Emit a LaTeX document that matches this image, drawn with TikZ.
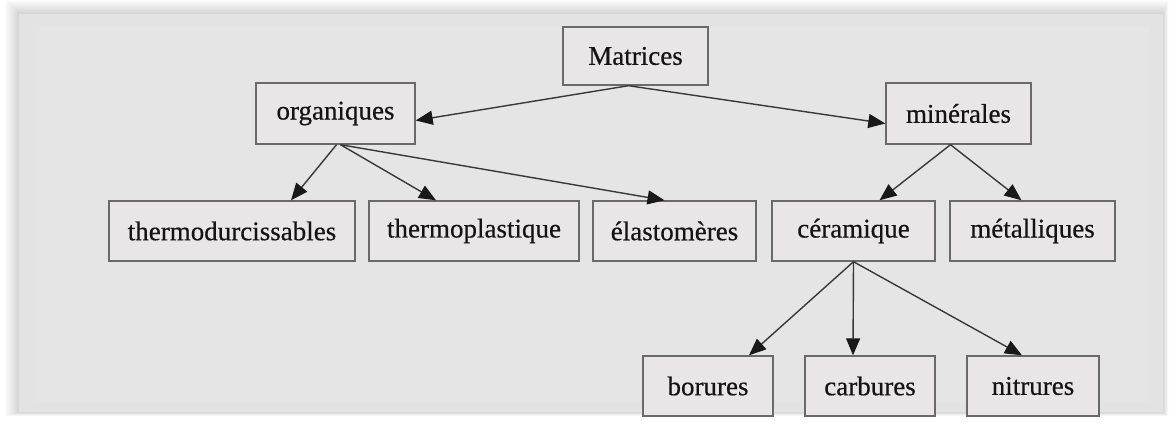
\documentclass[tikz,border=0pt]{standalone}
\usepackage{fontspec}
\setmainfont{Liberation Serif}
\newfontfamily\boxfont[FakeBold=0.5]{Liberation Serif}
\usetikzlibrary{arrows.meta,calc}
\definecolor{panel}{HTML}{E3E3E3}
\definecolor{panelin}{HTML}{E5E5E5}
\definecolor{boxfill}{HTML}{E8E6E6}
\definecolor{boxline}{HTML}{6A6A6A}
\definecolor{linec}{HTML}{383838}
\begin{document}
\begin{tikzpicture}[x=1pt,y=-1pt,
  box/.style={draw=boxline,line width=1.4pt,fill=boxfill,rectangle,inner sep=0pt,
    font=\boxfont\fontsize{27}{32}\selectfont,text=black!92},
  link/.style={draw=linec,line width=1.4pt,-{Triangle[length=17pt,width=14pt,color=black!90]}}]
\useasboundingbox (0,0) rectangle (1176,426);
\fill[white] (0,0) rectangle (1176,426);
% soft shadow of the panel
\foreach \d in {1,2,...,14}{
  \fill[black,opacity=0.012] (19-\d,14-\d) rectangle (1163+\d*0.4,412+\d*0.3);
}
\fill[panel] (19,14) rectangle (1163,412);
\fill[panelin] (33,27) rectangle (1150,401);
% nodes
\node[box,minimum width=145pt,minimum height=58pt] (mat) at (635.5,56) {Matrices};
\node[box,minimum width=159pt,minimum height=61pt] (org) at (335.5,113.5) {organiques};
\node[box,minimum width=145pt,minimum height=61pt] (min) at (958.5,113.5) {minérales};
\node[box,minimum width=246pt,minimum height=60pt] (td) at (232,231) {thermodurcissables};
\node[box,minimum width=210pt,minimum height=60pt] (tp) at (474,231) {thermoplastique};
\node[box,minimum width=163pt,minimum height=60pt] (el) at (674.5,231) {élastomères};
\node[box,minimum width=163pt,minimum height=60pt] (cer) at (853.5,231) {céramique};
\node[box,minimum width=165pt,minimum height=60pt] (met) at (1032.5,231) {métalliques};
\node[box,minimum width=130pt,minimum height=60pt] (bor) at (708,386) {borures};
\node[box,minimum width=130pt,minimum height=60pt] (car) at (870,386) {carbures};
\node[box,minimum width=132pt,minimum height=60pt] (nit) at (1033,386) {nitrures};
% connectors
\draw[link] ($(mat.south)+(-7,0)$) -- ($(org.east)+(0,7)$);
\draw[link] ($(mat.south)+(-7,0)$) -- ($(min.west)+(0,10)$);
\draw[link] ($(org.south)+(1,0)$) -- ($(td.north)+(59,0)$);
\draw[link] ($(org.south)+(5,0)$) -- ($(tp.north)+(-38,0)$);
\draw[link] ($(org.south)+(5,0)$) -- ($(el.north)+(-10,0)$);
\draw[link] ($(min.south)+(-8,0)$) -- ($(cer.north)+(26,0)$);
\draw[link] ($(min.south)+(-8,0)$) -- ($(met.north)+(-11,0)$);
\draw[link] ($(cer.south)+(0,0)$) -- ($(bor.north)+(41,0)$);
\draw[link] ($(cer.south)+(0,0)$) -- ($(car.north)+(-17,0)$);
\draw[link] ($(cer.south)+(0,0)$) -- ($(nit.north)+(-11,0)$);
\end{tikzpicture}
\end{document}
